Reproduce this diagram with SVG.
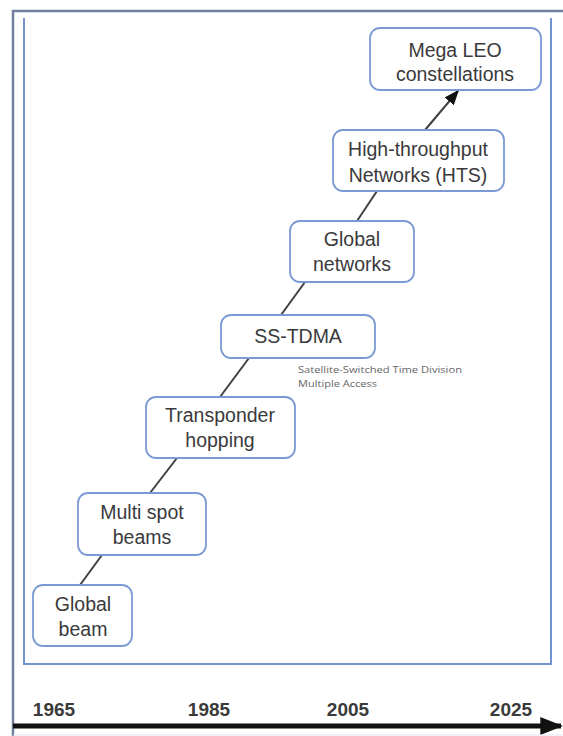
<svg xmlns="http://www.w3.org/2000/svg" width="563" height="736" viewBox="0 0 563 736">
  <defs>
    <style>
      .frame { fill: none; stroke: #72809c; stroke-width: 2.5; }
      .panel { fill: none; stroke: #7192d0; stroke-width: 2; }
      .box { fill: #ffffff; stroke: #7b9ad4; stroke-width: 1.8; }
      .label { font-family: "Liberation Sans", Arial, sans-serif; font-size: 19.5px; fill: #3a3a3c; text-anchor: middle; }
      .note { font-family: "Open Sans", "Noto Sans", sans-serif; font-size: 9.5px; fill: #666666; }
      .year { font-family: "Liberation Sans", Arial, sans-serif; font-size: 19px; font-weight: bold; fill: #3a3a3a; text-anchor: middle; }
      .link { stroke: #404040; stroke-width: 2; fill: none; }
    </style>
    <marker id="arrowhead" viewBox="0 0 10 10" refX="9" refY="5" markerWidth="15" markerHeight="12" markerUnits="userSpaceOnUse" orient="auto" preserveAspectRatio="none">
      <path d="M0,0 L10,5 L0,10 z" fill="#111111"/>
    </marker>
    <marker id="timehead" viewBox="0 0 10 10" refX="9" refY="5" markerWidth="23" markerHeight="18" markerUnits="userSpaceOnUse" orient="auto" preserveAspectRatio="none">
      <path d="M0,0 L10,5 L0,10 z" fill="#111111"/>
    </marker>
  </defs>

  <!-- outer frame -->
  <path class="frame" d="M13,736 L13,11 L563,11"/>
  <!-- inner panel (open at top) -->
  <path class="panel" d="M24,18 L24,664 L551,664 L551,18"/>

  <!-- connectors between stages -->
  <g id="connectors">
    <line class="link" x1="80" y1="585" x2="102" y2="555"/>
    <line class="link" x1="150" y1="493" x2="177" y2="458"/>
    <line class="link" x1="220" y1="397" x2="249" y2="358"/>
    <line class="link" x1="281" y1="315" x2="305" y2="282"/>
    <line class="link" x1="357" y1="221" x2="377" y2="191"/>
    <line class="link" x1="425" y1="130" x2="458" y2="91" marker-end="url(#arrowhead)"/>
  </g>

  <g id="node-global-beam">
    <rect class="box" x="33" y="585" width="99" height="61" rx="10"/>
    <text class="label" x="83" y="611">Global</text>
    <text class="label" x="83" y="636">beam</text>
  </g>

  <g id="node-multi-spot">
    <rect class="box" x="78" y="493" width="128" height="62" rx="10"/>
    <text class="label" x="142" y="519">Multi spot</text>
    <text class="label" x="142" y="544">beams</text>
  </g>

  <g id="node-transponder">
    <rect class="box" x="146" y="397" width="149" height="61" rx="10"/>
    <text class="label" x="220" y="422">Transponder</text>
    <text class="label" x="220" y="447">hopping</text>
  </g>

  <g id="node-ss-tdma">
    <rect class="box" x="221" y="315" width="154" height="43" rx="10"/>
    <text class="label" x="298" y="343">SS-TDMA</text>
    <text class="note" x="298" y="373" textLength="164" lengthAdjust="spacingAndGlyphs">Satellite-Switched Time Division</text>
    <text class="note" x="298" y="386.5" textLength="79" lengthAdjust="spacingAndGlyphs">Multiple Access</text>
  </g>

  <g id="node-global-networks">
    <rect class="box" x="290" y="221" width="124" height="61" rx="10"/>
    <text class="label" x="352" y="246">Global</text>
    <text class="label" x="352" y="271">networks</text>
  </g>

  <g id="node-hts">
    <rect class="box" x="333" y="130" width="171" height="61" rx="10"/>
    <text class="label" x="418" y="156">High-throughput</text>
    <text class="label" x="418" y="182">Networks (HTS)</text>
  </g>

  <g id="node-mega-leo">
    <rect class="box" x="370" y="28" width="171" height="62" rx="10"/>
    <text class="label" x="455" y="57">Mega LEO</text>
    <text class="label" x="455" y="81">constellations</text>
  </g>

  <!-- timeline -->
  <g id="timeline">
    <line x1="13" y1="726" x2="561" y2="726" stroke="#111111" stroke-width="5" marker-end="url(#timehead)"/>
    <line x1="13" y1="735" x2="563" y2="735" stroke="#dfe5f0" stroke-width="1"/>
    <text class="year" x="54" y="716">1965</text>
    <text class="year" x="209" y="716">1985</text>
    <text class="year" x="348" y="716">2005</text>
    <text class="year" x="511" y="716">2025</text>
  </g>
</svg>
